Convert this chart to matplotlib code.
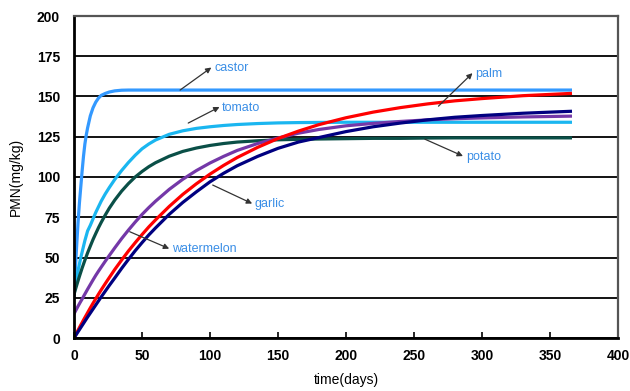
import matplotlib.pyplot as plt

# time axis (days) shared by all curves
days = [0, 1, 2, 3, 4, 5, 6, 7, 8, 9, 10, 12, 14, 16, 18, 20, 23, 26, 30, 35, 40, 45, 50, 55, 60,
        70, 80, 90, 100, 110, 120, 135, 150, 165, 180, 200, 220, 240, 260, 280, 300, 330, 365]

# PMN (mg/kg)
castor = [27, 43, 58, 72, 84, 94, 104, 113, 120.5, 126, 130.5, 138, 143, 146.5, 149, 150.7, 151.9, 152.8, 153.5,
          153.9, 154, 154, 154, 154, 154, 154, 154, 154, 154, 154, 154, 154, 154, 154, 154, 154, 154, 154,
          154, 154, 154, 154, 154]
tomato = [27, 32, 37, 42, 46, 50, 53.5, 57, 60.5, 63.5, 66.5, 70, 74, 78, 81.5, 85, 89.5, 93.5, 98.5,
          104, 109, 113.5, 117.5, 120.5, 123, 126.5, 128.7, 130.2, 131.2, 132, 132.6, 133.2, 133.6, 133.8, 133.9,
          134, 134, 134, 134, 134, 134, 134, 134]
potato = [27, 30, 32.8, 35.6, 38.3, 40.9, 43.5, 45.9, 48.3, 50.6, 52.9, 57.1, 61.2, 64.9, 68.5, 71.8, 76.4, 80.7, 85.7,
          91.2, 95.9, 100, 103.4, 106.4, 108.9, 112.9, 115.9, 118, 119.6, 120.8, 121.7, 122.5, 123.1, 123.4, 123.6,
          123.8, 124, 124, 124.2, 124.3, 124.3, 124.3, 124.3]
purple_curve = [15, 16.6, 18.2, 19.8, 21.3, 22.8, 24.2, 25.8, 27.3, 28.8, 30.3, 33.2, 36.1, 38.9, 41.5, 44, 47.7, 51.3, 56,
                61.7, 67, 72, 76.7, 81, 85, 92.3, 98.6, 104, 108.7, 112.8, 116.5, 120.8, 124.2, 127.2, 129.5,
                131.8, 133.3, 134.5, 135.5, 136.2, 136.7, 137.3, 137.8]
palm = [0, 1.65, 3.3, 4.9, 6.5, 8.1, 9.6, 11.2, 12.7, 14.2, 15.7, 18.7, 21.6, 24.4, 27.2, 29.9, 33.8, 37.6, 42.6,
        48.4, 54, 59.2, 64.2, 69, 73.4, 81.7, 89.2, 95.8, 101.8, 107.2, 112.1, 118.4, 123.9, 128.5, 132.5,
        136.8, 140.3, 143.1, 145.4, 147.3, 148.7, 150.5, 151.9]
navy_curve = [0, 1.3, 2.6, 3.9, 5.2, 6.5, 7.8, 9.1, 10.4, 11.7, 13, 15.5, 18, 20.5, 23, 25.5, 29.1, 32.7, 37.3,
              43.2, 48.8, 54.2, 59.2, 64, 68.4, 76.8, 84.2, 90.8, 97, 102.3, 107, 112.8, 117.8, 121.7, 124.5,
              128.2, 131.2, 133.5, 135.5, 137.1, 138.2, 139.6, 140.8]

# label text, arrow tail (on curve), text position
labels = ['castor', 'tomato', 'palm', 'potato', 'garlic', 'watermelon']
arrow_from = [(78, 154), (84, 133.5), (268, 144), (258, 123.5), (102, 95), (41, 66)]
text_at = [(103, 167.5), (109, 143), (295, 164), (288, 112.5), (133, 83), (72, 55)]


def plot_data(output_file='out.png'):
    fig = plt.figure(figsize=(6.3, 3.91), dpi=100)
    ax = fig.add_axes([74 / 630, 53 / 391, 544 / 630, 322 / 391])

    lw = 2.3
    ax.plot(days, castor, color='#3399ff', lw=lw)
    ax.plot(days, tomato, color='#1ab6f0', lw=lw)
    ax.plot(days, potato, color='#0a4f47', lw=lw)
    ax.plot(days, purple_curve, color='#7438a8', lw=lw)
    ax.plot(days, palm, color='#ff0000', lw=lw)
    ax.plot(days, navy_curve, color='#000080', lw=lw)

    for name, (x0, y0), (xt, yt) in zip(labels, arrow_from, text_at):
        ax.annotate('', xy=(xt - 2, yt + 0.5), xytext=(x0, y0),
                    arrowprops=dict(arrowstyle='-|>', color='#333333', lw=0.9,
                                    mutation_scale=8, shrinkA=0, shrinkB=0))
        ax.text(xt, yt, name, color='#3a8ee6', fontsize=9, family='Liberation Sans',
                ha='left', va='center')

    ax.set_xlim(0, 400)
    ax.set_ylim(0, 200)
    ax.set_xticks(range(0, 401, 50))
    ax.set_yticks(range(0, 201, 25))
    ax.yaxis.grid(True, color='black', lw=1.3)
    ax.set_axisbelow(True)
    ax.tick_params(axis='x', direction='in', length=4, width=1.2, pad=8)
    ax.tick_params(axis='y', length=0, pad=10)
    for lab in ax.get_xticklabels() + ax.get_yticklabels():
        lab.set_family('Liberation Sans')
        lab.set_fontweight('bold')
        lab.set_fontsize(10)

    for side in ['left', 'bottom']:
        ax.spines[side].set_color('black')
        ax.spines[side].set_linewidth(2)
    for side in ['top', 'right']:
        ax.spines[side].set_color('#555555')
        ax.spines[side].set_linewidth(1.6)

    ax.set_xlabel('time(days)', fontsize=10, family='Liberation Sans', labelpad=7)
    ax.set_ylabel('PMN(mg/kg)', fontsize=10, family='Liberation Sans', labelpad=10)

    fig.savefig(output_file, dpi=100)


if __name__ == "__main__":
    plot_data()
